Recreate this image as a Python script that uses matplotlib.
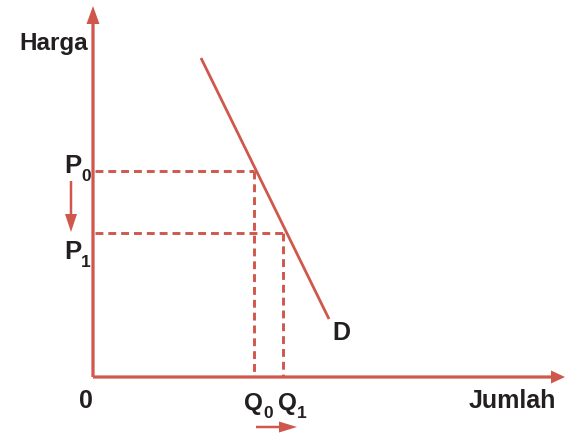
import matplotlib.pyplot as plt

# Kurva permintaan dan dua titik harga/jumlah (satuan bebas)
demand_q = [108, 236]
demand_p = [319, 58]
p0, p1 = 206, 144
q0, q1 = 161, 190
x_end, y_end = 472, 371

RED = '#cf574c'
INK = '#231f20'

plt.rcParams['font.family'] = ['Liberation Sans', 'DejaVu Sans']

fig = plt.figure(figsize=(5.65, 4.35), dpi=100)
ax = fig.add_axes([0, 0, 1, 1])
ax.set_xlim(-93, 472)
ax.set_ylim(-57, 378)
ax.set_aspect('equal')
ax.axis('off')

# sumbu harga dan jumlah
ax.arrow(0, 0, 0, y_end, width=3.2, head_width=13, head_length=18,
         length_includes_head=True, color=RED, lw=0)
ax.arrow(0, 0, x_end, 0, width=3.2, head_width=13, head_length=14,
         length_includes_head=True, color=RED, lw=0)

# kurva D
ax.plot(demand_q, demand_p, color=RED, lw=2.0, solid_capstyle='butt')

# garis bantu putus-putus
dash = dict(color=RED, lw=2.1, linestyle=(0, (2.7, 1.7)))
ax.plot([2, q0], [p0, p0], **dash)
ax.plot([q0, q0], [p0, 0], **dash)
ax.plot([2, q1], [p1, p1], **dash)
ax.plot([q1, q1], [p1, 0], **dash)

# panah perubahan harga dan jumlah
ax.arrow(-22, 196, 0, -(196 - p1 - 1), width=2.5, head_width=12, head_length=18,
         length_includes_head=True, color=RED, lw=0)
ax.arrow(q0 + 2, -50, 41, 0, width=2.5, head_width=11, head_length=18,
         length_includes_head=True, color=RED, lw=0)

txt = dict(color=INK, fontweight='bold', va='baseline', ha='left')
ax.text(-74, 328, 'Harga', fontsize=17.5, **txt)
ax.text(376, -30, 'Jumlah', fontsize=18, **txt)
ax.text(-14, -30, '0', fontsize=18, **txt)
ax.text(239, 38, 'D', fontsize=18, **txt)

# label harga dan jumlah dengan subskrip
def label(x, y, main, sub, dx, size=18.5):
    ax.text(x, y, main, fontsize=size, **txt)
    ax.text(x + dx, y - 8, sub, fontsize=12.5, **txt)

label(-29, p0 - 1, 'P', '0', 17)
label(-29, p1 - 25, 'P', '1', 17)
label(151, -32, 'Q', '0', 19, size=17.5)
label(185, -32, 'Q', '1', 19, size=17.5)

fig.savefig('out.png', dpi=100)
